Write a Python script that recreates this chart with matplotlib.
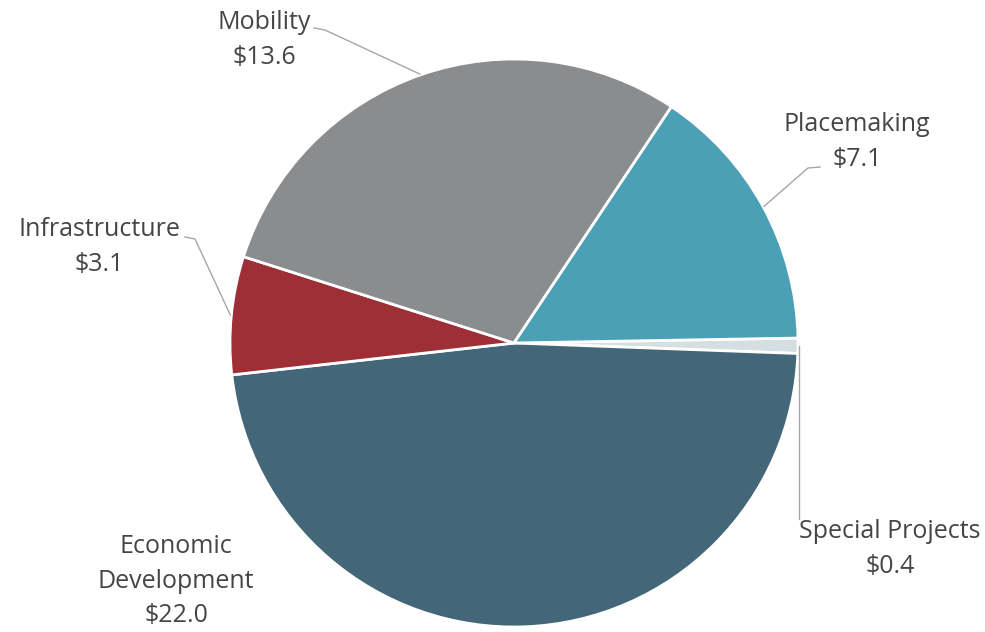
import numpy as np
import matplotlib.pyplot as plt

# Dane wykresu
categories = ['Special Projects', 'Economic Development', 'Infrastructure', 'Mobility', 'Placemaking']
label_text = ['Special Projects', 'Economic\nDevelopment', 'Infrastructure', 'Mobility', 'Placemaking']
values = [0.4, 22.0, 3.1, 13.6, 7.1]
colors = ['#d5dfe2', '#436678', '#9e2f37', '#8a8c8e', '#4ba0b5']

W, H = 985, 632
cx, cy, R = 514, H - 343, 284

fig = plt.figure(figsize=(W / 100, H / 100), dpi=100)
ax = fig.add_axes([0, 0, 1, 1])

wedges, _ = ax.pie(values, colors=colors, startangle=1, counterclock=False,
                   center=(cx, cy), radius=R,
                   wedgeprops=dict(edgecolor='white', linewidth=2))
ax.set_xlim(0, W)
ax.set_ylim(0, H)
ax.set_aspect('equal')
ax.axis('off')

# Pozycje etykiet (srodek tekstu) i punkty zalamania linii odniesienia
label_pos = {
    'Special Projects': (890, H - 549),
    'Economic Development': (176, H - 581),
    'Infrastructure': (99, H - 247),
    'Mobility': (264, H - 40),
    'Placemaking': (857, H - 142),
}
elbows = {
    'Special Projects': [(798, H - 519)],
    'Infrastructure': [(195, H - 239), (185, H - 237)],
    'Mobility': [(325, H - 30), (314, H - 28)],
    'Placemaking': [(808, H - 168), (820, H - 167)],
}

for w, cat, txt, val in zip(wedges, categories, label_text, values):
    x, y = label_pos[cat]
    ax.text(x, y, f'{txt}\n${val:.1f}', ha='center', va='center',
            fontsize=18, color='#454545', linespacing=1.5,
            family=['Open Sans', 'DejaVu Sans'])
    if cat in elbows:
        mid = np.radians((w.theta1 + w.theta2) / 2)
        px, py = cx + (R + 1) * np.cos(mid), cy + (R + 1) * np.sin(mid)
        pts = [(px, py)] + elbows[cat]
        if cat == 'Special Projects':
            pts = [(px, py), (px, elbows[cat][0][1])]
        xs, ys = zip(*pts)
        ax.plot(xs, ys, color='#a6a6a6', linewidth=1)

fig.savefig('out.png', dpi=100)
